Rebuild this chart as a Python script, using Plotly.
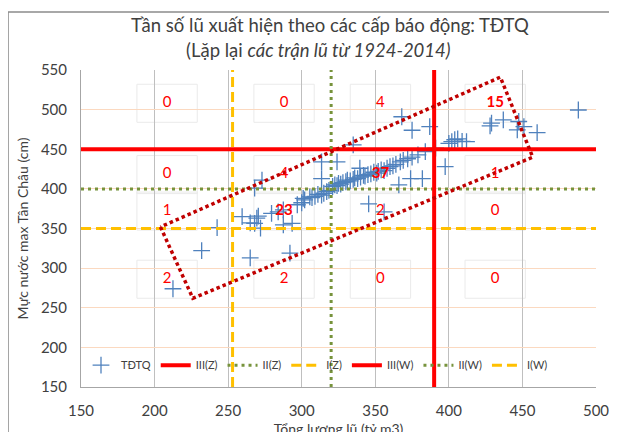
import plotly.graph_objects as go

# ---------------- data ----------------
# Flood events 1924-2014: total flood volume (bil. m3) vs max water level at Tan Chau (cm)
vol_col1 = [212.5, 232, 242.5]
lvl_col1 = [274, 322, 351]

vol_c2r4 = [265, 292]
lvl_c2r4 = [313, 319]

vol_c2r3 = [259.5, 265, 269.5, 268, 272, 270.5, 279.5, 284, 287.5, 287.5, 293.5, 297,
            300, 302, 305.5, 301, 313.5, 317, 309, 311, 315, 318.5, 307]
lvl_c2r3 = [365, 357, 363, 356.5, 350.5, 365.5, 369, 371, 373.5, 354.5, 356.5, 380,
            382.5, 386, 390, 388, 392, 396.5, 390.5, 393, 394.5, 398, 389]

vol_c2r2 = [268, 273, 313.5, 313.5]
lvl_c2r2 = [401, 411, 434, 413]

vol_c3r3 = [345.5, 356]
lvl_c3r3 = [381, 371]

vol_c3r2 = [324, 339.5, 366, 374, 382,
            321, 322.5, 324, 325, 326.5, 328, 330, 331, 333, 335, 336, 338, 340, 342, 343, 345,
            347, 349, 351, 352, 354, 356, 358, 360, 362, 364, 367, 369, 372, 375, 379, 384]
lvl_c3r2 = [434, 426, 405, 413, 413,
            403, 405, 404, 407, 406, 408, 409, 411, 410, 412, 414, 413, 415, 417, 416, 418,
            419, 421, 420, 422, 424, 423, 426, 428, 429, 431, 434, 436, 438, 440, 443, 447]

vol_c3r1 = [335, 368, 375, 387]
lvl_c3r1 = [455.5, 491, 474, 478.5]

vol_c4r1 = [488, 460, 451, 447.5, 446.5, 437, 429, 428, 412, 404, 402, 400, 391, 406, 409]
lvl_c4r1 = [499.5, 471, 478.5, 485, 474.5, 487, 483, 479.5, 459.5, 462, 459.5, 457.5, 451.5, 463, 460]

vol_c4r2 = [397.5]
lvl_c4r2 = [428]

flood_volume = vol_col1 + vol_c2r4 + vol_c2r3 + vol_c2r2 + vol_c3r3 + vol_c3r2 + vol_c3r1 + vol_c4r1 + vol_c4r2
flood_level = lvl_col1 + lvl_c2r4 + lvl_c2r3 + lvl_c2r2 + lvl_c3r3 + lvl_c3r2 + lvl_c3r1 + lvl_c4r1 + lvl_c4r2

# alarm levels
z_names = ["III(Z)", "II(Z)", "I(Z)"]
z_levels = [450, 400, 350]          # water level (cm)
w_names = ["III(W)", "II(W)", "I(W)"]
w_levels = [390, 320, 253]          # flood volume (bil. m3)

x_range = [150, 500]
y_range = [150, 550]
x_ticks = [150, 200, 250, 300, 350, 400, 450, 500]
y_ticks = [150, 200, 250, 300, 350, 400, 450, 500, 550]

# frequency counts per cell (rows top->bottom, cols left->right)
cell_x = [208.5, 288, 353.5, 431.5]
cell_y = [508, 418, 372, 286]
cell_counts = [["0", "0", "4", "15"],
               ["0", "4", "37", "1"],
               ["1", "23", "2", "0"],
               ["2", "2", "0", "0"]]
bold_counts = ["15", "37", "23"]

# dotted envelope around the main cluster
env_x = [204, 226, 457, 435, 204]
env_y = [352, 262, 440, 541, 352]

# ---------------- styles ----------------
RED = "#FF0000"
GREEN = "#77933C"
YELLOW = "#FFC000"
styles = [
    dict(color=RED, width=4, dash="solid"),
    dict(color=GREEN, width=3, dash="3px,4px"),
    dict(color=YELLOW, width=3, dash="10px,5px"),
]
FONT = "Lato"

fig = go.Figure()

fig.add_trace(go.Scatter(
    x=flood_volume, y=flood_level, mode="markers", name="TĐTQ",
    marker=dict(symbol="cross-thin", size=12, line=dict(color="#4F81BD", width=1.3)),
))

for name, lvl, st in zip(z_names, z_levels, styles):
    fig.add_trace(go.Scatter(x=x_range, y=[lvl, lvl], mode="lines", name=name,
                             line=st))
for name, lvl, st in zip(w_names, w_levels, styles):
    fig.add_trace(go.Scatter(x=[lvl, lvl], y=y_range, mode="lines", name=name,
                             line=st))

# envelope
fig.add_trace(go.Scatter(x=env_x, y=env_y, mode="lines", showlegend=False,
                         line=dict(color="#C00000", width=3.5, dash="3.5px,3px"),
                         hoverinfo="skip"))

# count labels
lab_x, lab_y, lab_t = [], [], []
shapes = []
for r, yv in enumerate(cell_y):
    for c, xv in enumerate(cell_x):
        t = cell_counts[r][c]
        lab_x.append(xv)
        lab_y.append(yv)
        lab_t.append("<b>%s</b>" % t if t in bold_counts else t)
        shapes.append(dict(type="rect", xref="x", yref="y", x0=xv - 20.5, x1=xv + 20.5,
                           y0=yv - 24, y1=yv + 24, line=dict(color="#EAEAEA", width=1),
                           layer="below"))
fig.add_trace(go.Scatter(x=lab_x, y=lab_y, mode="text", text=lab_t, showlegend=False,
                         textfont=dict(color=RED, size=15, family=FONT), hoverinfo="skip"))

# outer chart border
shapes.append(dict(type="rect", xref="paper", yref="paper", x0=-0.1417, x1=1.0272,
                   y0=-0.2, y1=1.183, line=dict(color="#8C8C8C", width=1.5), layer="below"))

fig.update_layout(
    width=617, height=432,
    margin=dict(l=73, r=29, t=62, b=53),
    paper_bgcolor="white", plot_bgcolor="white",
    font=dict(family=FONT, size=14, color="#404040"),
    showlegend=True,
    legend=dict(orientation="h", x=0.0, y=0.069, xanchor="left", yanchor="middle",
                bgcolor="rgba(0,0,0,0)", font=dict(size=11, color="#404040"),
                itemwidth=30, tracegroupgap=0),
    shapes=shapes,
    annotations=[
        dict(text="Tần số lũ xuất hiện theo các cấp báo động: TĐTQ", xref="paper", yref="paper",
             x=0.483, y=1.142, yanchor="middle", showarrow=False,
             font=dict(size=18.5, color="#404040")),
        dict(text="(Lặp lại <i>các trận lũ từ 1924-2014)</i>", xref="paper", yref="paper",
             x=0.462, y=1.063, yanchor="middle", showarrow=False,
             font=dict(size=18.5, color="#404040")),
    ],
    xaxis=dict(range=x_range, tickvals=x_ticks, showgrid=True, gridcolor="#BFBFBF",
               gridwidth=1, zeroline=False, showline=True, linecolor="#A6A6A6",
               ticks="outside", ticklen=10, tickcolor="rgba(0,0,0,0)", automargin=False,
               tickfont=dict(size=15, color="#404040"),
               title=dict(text="Tổng lượng lũ (tỷ m3)", font=dict(size=14, color="#404040"),
                          standoff=6)),
    yaxis=dict(range=y_range, tickvals=y_ticks, showgrid=True, gridcolor="#FBD9C0",
               gridwidth=1, zeroline=False, showline=True, linecolor="#A6A6A6",
               ticks="outside", ticklen=10, tickcolor="rgba(0,0,0,0)", automargin=False,
               tickfont=dict(size=15, color="#404040"),
               title=dict(text="Mực nước max Tân Châu (cm)", font=dict(size=14, color="#404040"),
                          standoff=8)),
)

fig.write_html("out.html")
